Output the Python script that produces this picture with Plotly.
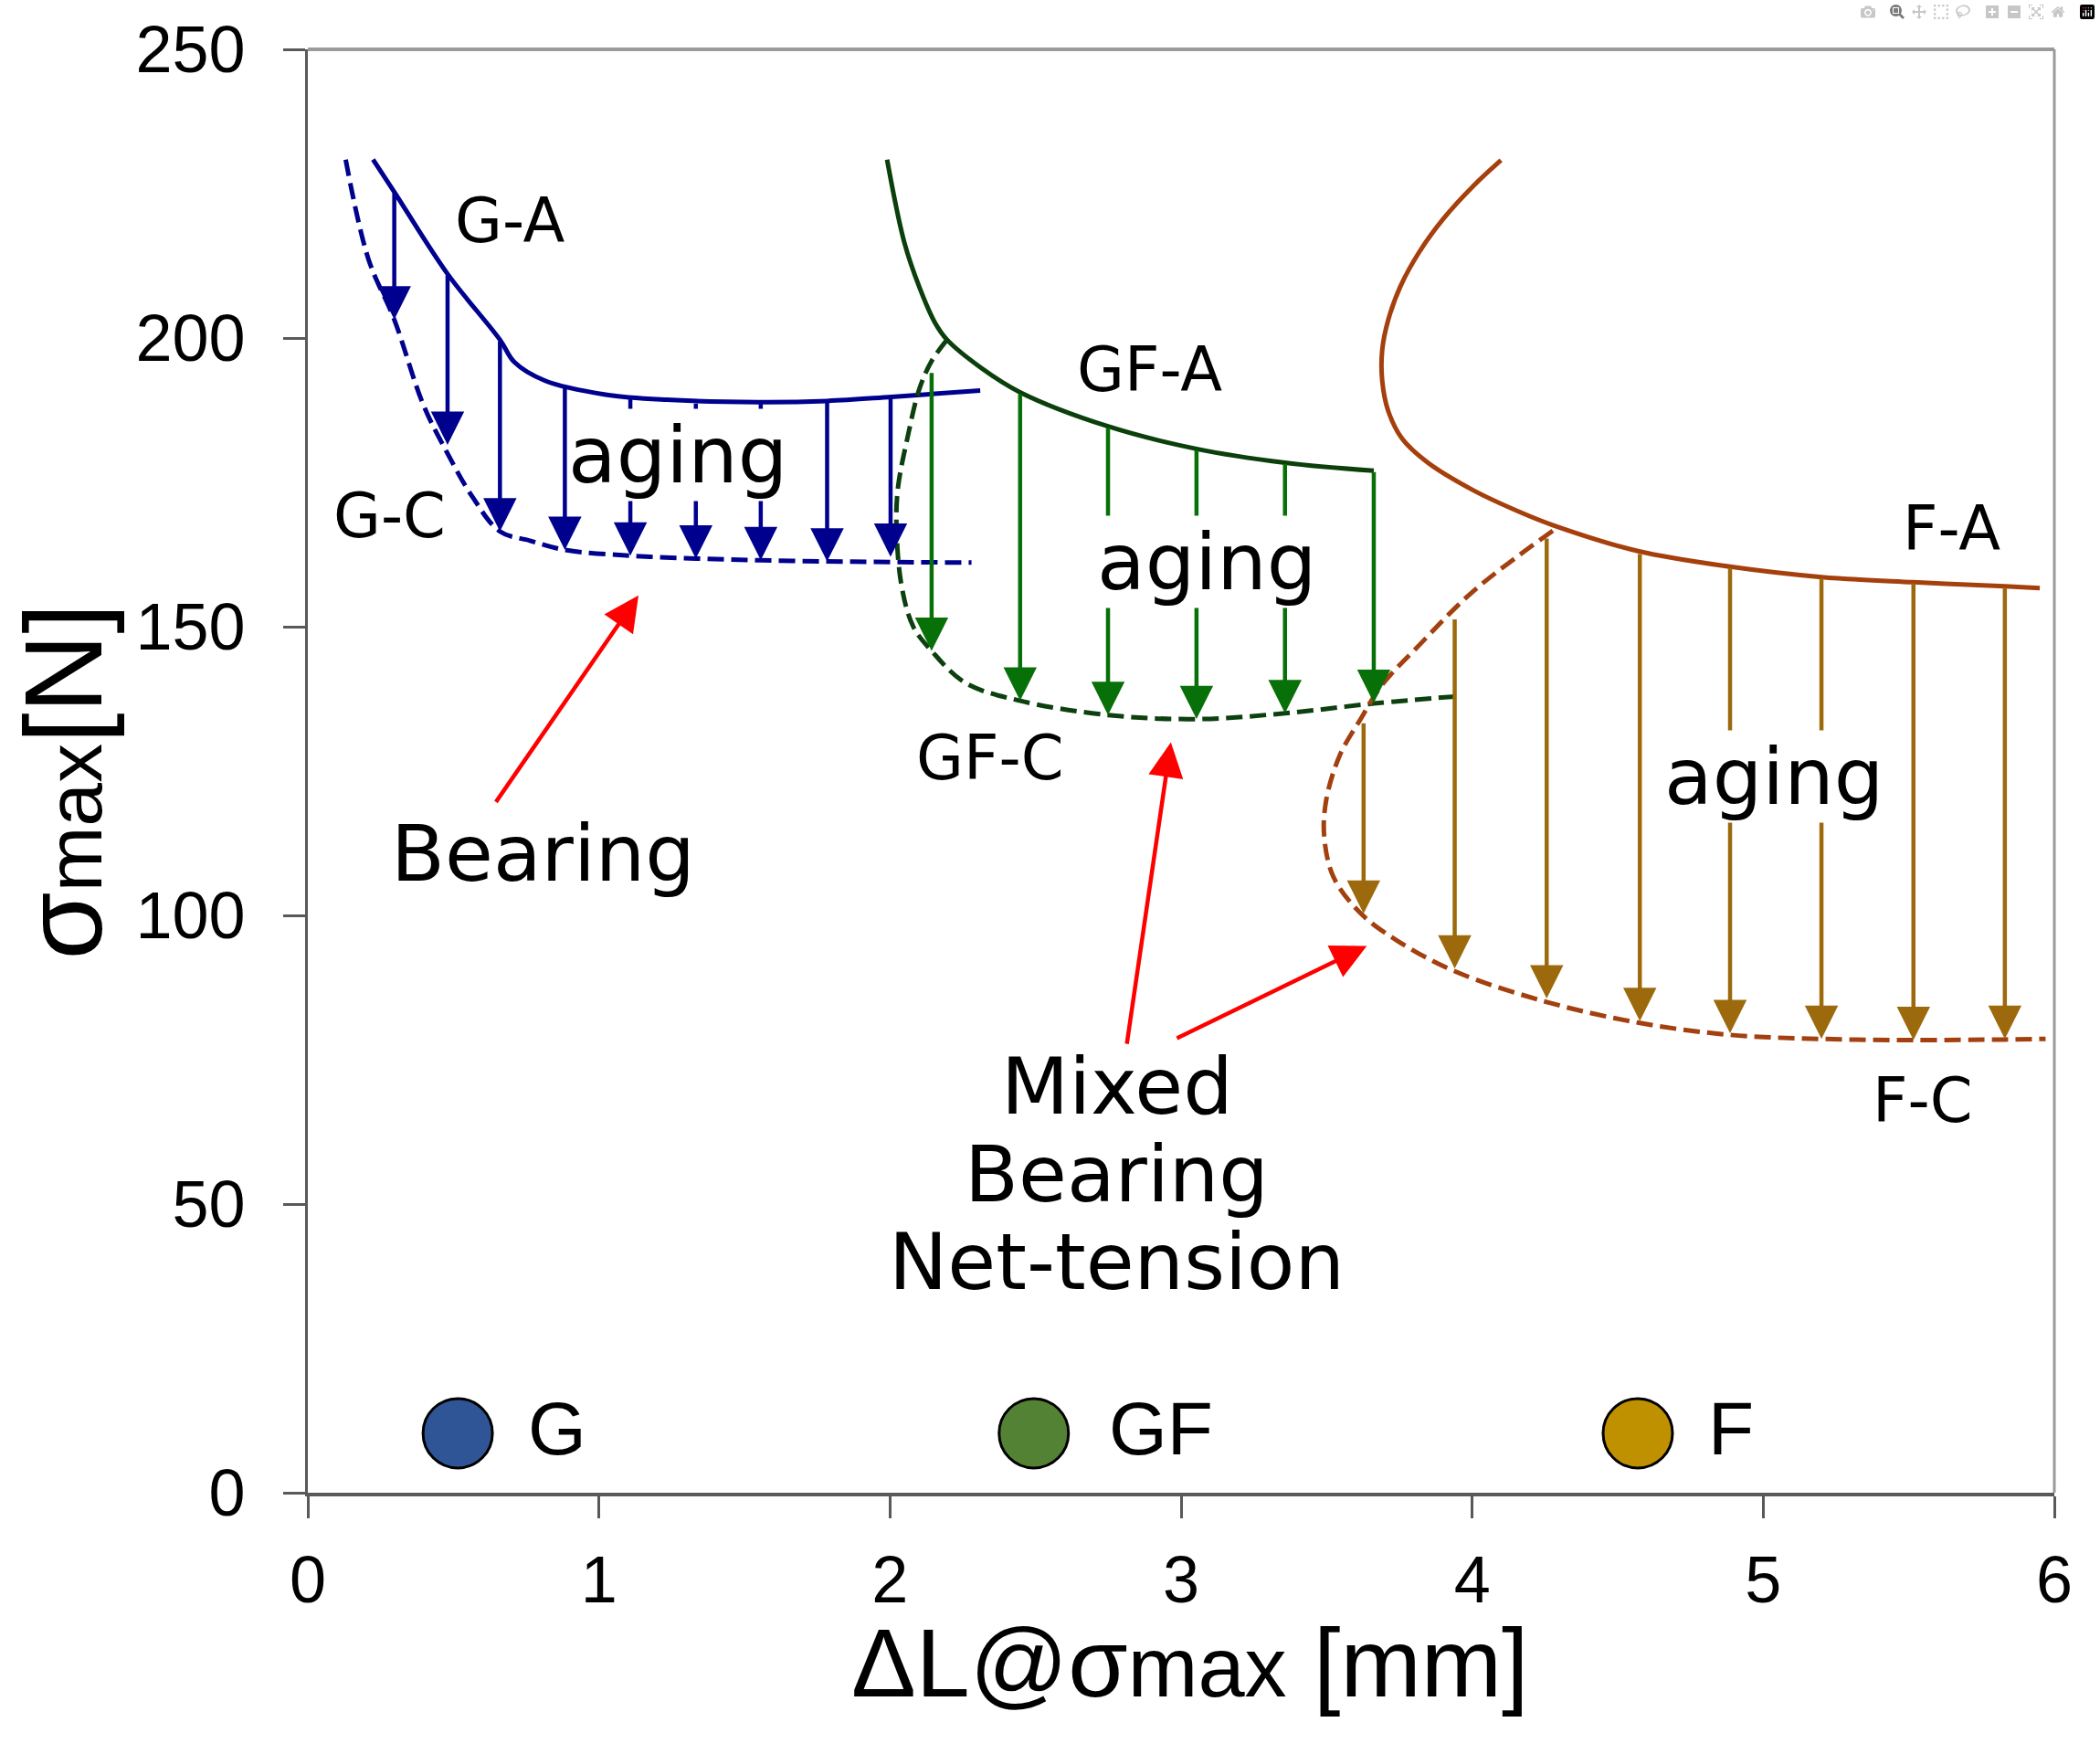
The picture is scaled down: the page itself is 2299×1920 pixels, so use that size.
import plotly.graph_objects as go

# ---------------- data ----------------
# G group (solid "A", dashed "C")
GA_x = [0.224, 0.297, 0.48, 0.66, 0.71, 0.815, 1.023, 1.233, 1.547, 1.784, 2.005, 2.31]
GA_y = [230.9, 225.3, 211.1, 199.7, 195.8, 192.6, 190.2, 189.3, 188.9, 189.1, 189.8, 190.9]
GC_x = [0.13, 0.208, 0.297, 0.397, 0.48, 0.564, 0.66, 0.763, 0.883, 1.108, 1.333, 1.556, 1.784, 2.005, 2.28]
GC_y = [230.9, 213.7, 203.2, 188.4, 180.0, 172.6, 166.5, 164.9, 163.3, 162.3, 161.8, 161.5, 161.3, 161.2, 161.1]
G_arrow_x = [0.297, 0.48, 0.66, 0.883, 1.108, 1.333, 1.556, 1.784, 2.002]
G_arrow_top = [225.3, 211.1, 199.7, 191.6, 190.0, 188.9, 188.8, 189.1, 189.7]
G_arrow_bot = [203.2, 181.5, 166.5, 163.3, 162.3, 161.8, 161.5, 161.3, 162.1]

# GF group
GFA_x = [1.99, 2.049, 2.101, 2.154, 2.196, 2.311, 2.447, 2.749, 3.053, 3.357, 3.662]
GFA_y = [230.9, 216.6, 208.8, 202.7, 199.7, 194.9, 190.6, 184.7, 180.8, 178.4, 177.0]
GFC_x = [2.196, 2.143, 2.101, 2.06, 2.028, 2.022, 2.039, 2.08, 2.143, 2.258, 2.444, 2.749, 3.053, 3.357, 3.662, 3.963]
GFC_y = [199.7, 196.0, 191.2, 182.7, 174.3, 168.2, 157.3, 150.0, 145.8, 140.3, 137.2, 134.7, 134.0, 135.0, 136.7, 138.0]
GF_arrow_x = [2.143, 2.447, 2.749, 3.053, 3.357, 3.662]
GF_arrow_top = [194.2, 190.5, 184.7, 180.8, 178.4, 177.0]
GF_arrow_bot = [145.8, 137.2, 134.7, 134.0, 135.0, 136.8]

# F group
FA_x = [4.099, 4.005, 3.90, 3.817, 3.754, 3.712, 3.691, 3.691, 3.712, 3.759, 3.848, 4.005, 4.162,
        4.277, 4.57, 4.886, 5.2, 5.516, 5.83, 5.95]
FA_y = [230.8, 226.4, 220.6, 214.8, 209.0, 203.2, 197.9, 192.6, 187.3, 182.6, 178.4, 173.6, 169.9,
        167.6, 163.1, 160.4, 158.6, 157.7, 157.0, 156.7]
FC_x = [4.277, 4.005, 3.816, 3.69, 3.618, 3.545, 3.498, 3.492, 3.524, 3.618, 3.743, 3.941, 4.256,
        4.572, 4.886, 5.2, 5.516, 5.83, 5.97]
FC_y = [166.6, 156.2, 146.7, 139.9, 134.1, 127.7, 119.8, 113.5, 106.6, 100.3, 95.6, 90.3, 85.0,
        81.4, 79.3, 78.6, 78.4, 78.5, 78.6]
F_arrow_x = [3.627, 3.94, 4.256, 4.576, 4.886, 5.2, 5.516, 5.83]
F_arrow_top = [133.5, 151.5, 165.5, 162.8, 160.4, 158.6, 157.7, 157.0]
F_arrow_bot = [100.3, 90.8, 85.6, 81.7, 79.6, 78.6, 78.4, 78.6]

# red pointer arrows (tail -> head)
red_tail_x = [0.643, 2.813, 2.981]
red_tail_y = [119.4, 77.5, 78.6]
red_head_x = [1.136, 2.965, 3.638]
red_head_y = [155.4, 130.0, 94.7]

# text labels
curve_labels = ["G-A", "G-C", "GF-A", "GF-C", "F-A", "F-C"]
curve_label_x = [0.696, 0.28, 2.893, 2.341, 5.648, 5.548]
curve_label_y = [220.3, 169.2, 194.5, 127.2, 166.9, 67.9]
aging_x = [1.27, 3.088, 5.036]
aging_y = [179.8, 161.2, 124.1]
bearing_x, bearing_y = 0.807, 110.7
mixed_lines = ["Mixed", "Bearing", "Net-tension"]
mixed_x = 2.78
mixed_y = [70.4, 55.2, 40.0]

# bottom "legend" markers
legend_names = ["G", "GF", "F"]
legend_x = [0.515, 2.494, 4.569]
legend_y = [10.3, 10.3, 10.3]
legend_text_x = [0.75, 2.746, 4.804]
legend_colors = ["#2f5597", "#548235", "#bf9000"]

x_ticks = [0, 1, 2, 3, 4, 5, 6]
y_ticks = [0, 50, 100, 150, 200, 250]

# ---------------- styles ----------------
C_G = "#00008f"
C_GFA = "#0b3f0b"
C_GFC = "#0d400f"
C_GF_ARR = "#087008"
C_FA = "#a5400d"
C_FC = "#a3400f"
C_F_ARR = "#9c6a0c"
C_RED = "#ff0000"
TXT_FONT = "DejaVu Sans"
AX_FONT = "Liberation Sans, Arial"
DASH = "18px,8px"

fig = go.Figure()


def add_line(xs, ys, color, dash=None, width=5):
    fig.add_trace(go.Scatter(x=xs, y=ys, mode="lines",
                             line=dict(color=color, width=width, shape="spline", dash=dash),
                             showlegend=False, hoverinfo="skip"))


add_line(GA_x, GA_y, C_G)
add_line(GC_x, GC_y, C_G, DASH)
add_line(GFA_x, GFA_y, C_GFA)
add_line(GFC_x, GFC_y, C_GFC, DASH)
add_line(FA_x, FA_y, C_FA)
add_line(FC_x, FC_y, C_FC, DASH)

# legend circles
fig.add_trace(go.Scatter(x=legend_x, y=legend_y, mode="markers",
                         marker=dict(size=76, color=legend_colors, line=dict(color="black", width=3)),
                         showlegend=False, hoverinfo="skip"))


def add_arrows(xs, tops, bots, color, width=4.5, size=1.62):
    for x, t, b in zip(xs, tops, bots):
        fig.add_annotation(x=x, y=b, ax=x, ay=t, xref="x", yref="y", axref="x", ayref="y",
                           text="", showarrow=True, arrowhead=2, arrowsize=size,
                           arrowwidth=width, arrowcolor=color, standoff=0)


add_arrows(G_arrow_x, G_arrow_top, G_arrow_bot, C_G)
add_arrows(GF_arrow_x, GF_arrow_top, GF_arrow_bot, C_GF_ARR)
add_arrows(F_arrow_x, F_arrow_top, F_arrow_bot, C_F_ARR)

for tx, ty, hx, hy in zip(red_tail_x, red_tail_y, red_head_x, red_head_y):
    fig.add_annotation(x=hx, y=hy, ax=tx, ay=ty, xref="x", yref="y", axref="x", ayref="y",
                       text="", showarrow=True, arrowhead=2, arrowsize=1.7,
                       arrowwidth=4.5, arrowcolor=C_RED, standoff=0)

# labels
for t, x, y in zip(curve_labels, curve_label_x, curve_label_y):
    fig.add_annotation(x=x, y=y, xref="x", yref="y", text=t, showarrow=False,
                       font=dict(family=TXT_FONT, size=67, color="black"))

for x, y in zip(aging_x, aging_y):
    fig.add_annotation(x=x, y=y, xref="x", yref="y", text="aging", showarrow=False,
                       bgcolor="white", borderpad=0,
                       font=dict(family=TXT_FONT, size=86, color="black"))

fig.add_annotation(x=bearing_x, y=bearing_y, xref="x", yref="y", text="Bearing", showarrow=False,
                   font=dict(family=TXT_FONT, size=86, color="black"))
for t, y in zip(mixed_lines, mixed_y):
    fig.add_annotation(x=mixed_x, y=y, xref="x", yref="y", text=t, showarrow=False,
                       font=dict(family=TXT_FONT, size=86, color="black"))

for t, x, y in zip(legend_names, legend_text_x, legend_y):
    fig.add_annotation(x=x, y=y + 0.9, xref="x", yref="y", text=t, showarrow=False,
                       xanchor="left", font=dict(family=AX_FONT, size=82, color="black"))

# axis titles
fig.add_annotation(x=-0.140, y=0.493, xref="paper", yref="paper", textangle=-90,
                   xanchor="center", yanchor="middle",
                   text="σ<span style='font-size:86px'>max</span>[N]", showarrow=False,
                   font=dict(family=AX_FONT, size=120, color="black"))
fig.add_annotation(x=0.505, y=-0.118, xref="paper", yref="paper",
                   xanchor="center", yanchor="middle",
                   text="ΔL@σ<span style='font-size:92px'>max</span> [mm]", showarrow=False,
                   font=dict(family=AX_FONT, size=106, color="black"))

# top / right frame
fig.add_shape(type="line", xref="paper", yref="paper", x0=0, x1=1, y0=1, y1=1,
              line=dict(color="#9a9a9a", width=4))
fig.add_shape(type="line", xref="paper", yref="paper", x0=1, x1=1, y0=0, y1=1,
              line=dict(color="#9a9a9a", width=3))

fig.update_xaxes(range=[0, 6], tickvals=x_ticks, ticks="outside", ticklen=24, tickwidth=3,
                 tickcolor="#595959", showline=True, linecolor="#595959", linewidth=4,
                 showgrid=False, zeroline=False, ticklabelstandoff=6,
                 tickfont=dict(family=AX_FONT, size=72, color="black"))
fig.update_yaxes(range=[0, 250], tickvals=y_ticks, ticks="outside", ticklen=24, tickwidth=3,
                 tickcolor="#595959", showline=True, linecolor="#595959", linewidth=3,
                 showgrid=False, zeroline=False, ticklabelstandoff=27,
                 tickfont=dict(family=AX_FONT, size=72, color="black"))

fig.update_layout(width=2299, height=1920, margin=dict(l=337, r=50, t=54, b=286),
                  plot_bgcolor="white", paper_bgcolor="white", showlegend=False)

fig.write_html("out.html", post_script="document.body.style.margin='0';")
